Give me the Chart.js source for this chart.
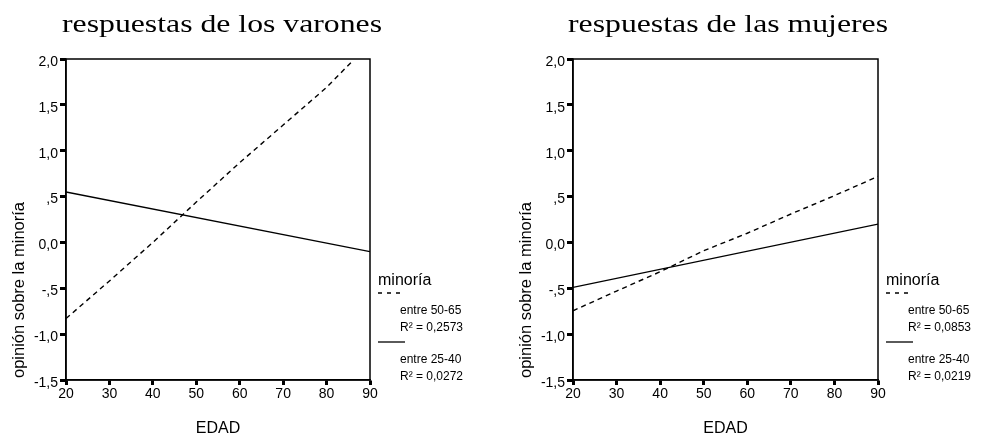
<!DOCTYPE html>
<html lang="es">
<head>
<meta charset="UTF-8">
<title>opinión sobre la minoría según la edad</title>
<script src="https://cdn.jsdelivr.net/npm/chart.js"></script>
<style>
 html, body { margin: 0; padding: 0; background: #fff; }
 #wrap { position: relative; width: 982px; height: 438px; }
 .panel { position: absolute; top: 0; width: 491px; height: 438px; }
</style>
</head>
<body>
<div id="wrap">
 <div class="panel" style="left:0"><canvas id="varones" width="491" height="438"></canvas></div>
 <div class="panel" style="left:491px"><canvas id="mujeres" width="491" height="438"></canvas></div>
</div>
<script>
// values
const grupos = ['entre 50-65', 'entre 25-40'];

const edadVarones5065 = [20, 30, 40, 50, 60, 70, 80, 86];
const varones5065 = [-0.83, -0.42, 0.0, 0.44, 0.87, 1.28, 1.69, 1.98];
const edadVarones2540 = [20, 90];
const varones2540 = [0.55, -0.10];
const r2Varones = ['0,2573', '0,0272'];

const edadMujeres5065 = [20, 30, 40, 50, 60, 70, 80, 90];
const mujeres5065 = [-0.745, -0.53, -0.32, -0.09, 0.10, 0.31, 0.51, 0.72];
const edadMujeres2540 = [20, 90];
const mujeres2540 = [-0.49, 0.20];
const r2Mujeres = ['0,0853', '0,0219'];

const yTickLabels = ['-1,5', '-1,0', '-,5', '0,0', ',5', '1,0', '1,5', '2,0'];
const xTickLabels = ['20', '30', '40', '50', '60', '70', '80', '90'];

const SANS = '"Liberation Sans", Arial, sans-serif';

function pts(xs, ys) {
 return xs.map((x, i) => ({ x: x, y: ys[i] }));
}

// frame, title, y label and the SPSS-style legend
const decor = {
 id: 'decor',
 afterDraw(chart, args, o) {
 const ctx = chart.ctx, a = chart.chartArea;
 ctx.save();
 ctx.strokeStyle = '#000';
 ctx.fillStyle = '#000';
 ctx.lineWidth = 1.5;
 ctx.strokeRect(a.left, a.top, a.right - a.left, a.bottom - a.top);

 // title (stretched wide like the original)
 ctx.save();
 ctx.font = '25px "Liberation Serif", "Times New Roman", serif';
 ctx.textAlign = 'left';
 ctx.textBaseline = 'alphabetic';
 ctx.translate(o.titleX, 32);
 ctx.scale(1.27, 1);
 ctx.fillText(o.title, 0, 0);
 ctx.restore();

 // y axis label
 ctx.save();
 ctx.translate(a.left - 47, 290);
 ctx.rotate(-Math.PI / 2);
 ctx.font = '16.5px ' + SANS;
 ctx.textAlign = 'center';
 ctx.textBaseline = 'middle';
 ctx.fillText('opinión sobre la minoría', 0, 0);
 ctx.restore();

 // legend
 const lx = a.right + 8;
 ctx.textAlign = 'left';
 ctx.textBaseline = 'alphabetic';
 ctx.font = '16px ' + SANS;
 ctx.fillText('minoría', lx, 285);
 ctx.font = '12px ' + SANS;
 chart.data.datasets.forEach((ds, i) => {
 const y0 = 293 + i * 49;
 ctx.beginPath();
 ctx.lineWidth = 1.3;
 ctx.setLineDash(ds.borderDash && ds.borderDash.length ? [4, 5] : []);
 ctx.moveTo(lx, y0);
 ctx.lineTo(lx + 27, y0);
 ctx.stroke();
 ctx.setLineDash([]);
 ctx.fillText(ds.label, lx + 22, y0 + 21);
 ctx.fillText('R\u00B2 = ' + o.r2[i], lx + 22, y0 + 38);
 });
 ctx.restore();
 }
};

function makeChart(id, s5065, s2540, opts) {
 return new Chart(document.getElementById(id), {
 type: 'line',
 data: {
 datasets: [
 { label: grupos[0], data: s5065, borderColor: '#000', borderWidth: 1.4,
 borderDash: [5, 4], pointRadius: 0, fill: false, tension: 0 },
 { label: grupos[1], data: s2540, borderColor: '#000', borderWidth: 1.4,
 pointRadius: 0, fill: false, tension: 0 }
 ]
 },
 options: {
 responsive: false,
 animation: false,
 events: [],
 layout: { padding: { left: opts.padLeft, right: opts.padRight, top: 59, bottom: 0 } },
 plugins: {
 legend: { display: false },
 tooltip: { enabled: false },
 decor: { title: opts.title, titleX: opts.titleX, r2: opts.r2 }
 },
 scales: {
 x: {
 type: 'linear', min: 20, max: 90,
 afterFit: (sc) => { sc.height = 58; },
 ticks: {
 stepSize: 10, padding: 1, color: '#000', maxRotation: 0,
 font: { family: SANS, size: 14 },
 callback: (v, i) => xTickLabels[i]
 },
 grid: { drawOnChartArea: false, tickLength: 5, tickWidth: 3, tickColor: '#000' },
 border: { color: '#000', width: 1.5 },
 title: { display: true, text: 'EDAD', color: '#000', font: { family: SANS, size: 16 },
 padding: { top: 0, bottom: 0 } }
 },
 y: {
 type: 'linear', min: -1.5, max: 2,
 afterFit: (sc) => { sc.width = 66; },
 ticks: {
 stepSize: 0.5, padding: 2, color: '#000', labelOffset: 3,
 font: { family: SANS, size: 14 },
 callback: (v, i) => yTickLabels[i]
 },
 grid: { drawOnChartArea: false, tickLength: 6, tickWidth: 3, tickColor: '#000' },
 border: { color: '#000', width: 1.5 }
 }
 }
 },
 plugins: [decor]
 });
}

makeChart('varones',
 pts(edadVarones5065, varones5065), pts(edadVarones2540, varones2540),
 { title: 'respuestas de los varones', titleX: 62, padLeft: 0, padRight: 121, r2: r2Varones });

makeChart('mujeres',
 pts(edadMujeres5065, mujeres5065), pts(edadMujeres2540, mujeres2540),
 { title: 'respuestas de las mujeres', titleX: 77, padLeft: 16, padRight: 104, r2: r2Mujeres });
</script>
</body>
</html>
